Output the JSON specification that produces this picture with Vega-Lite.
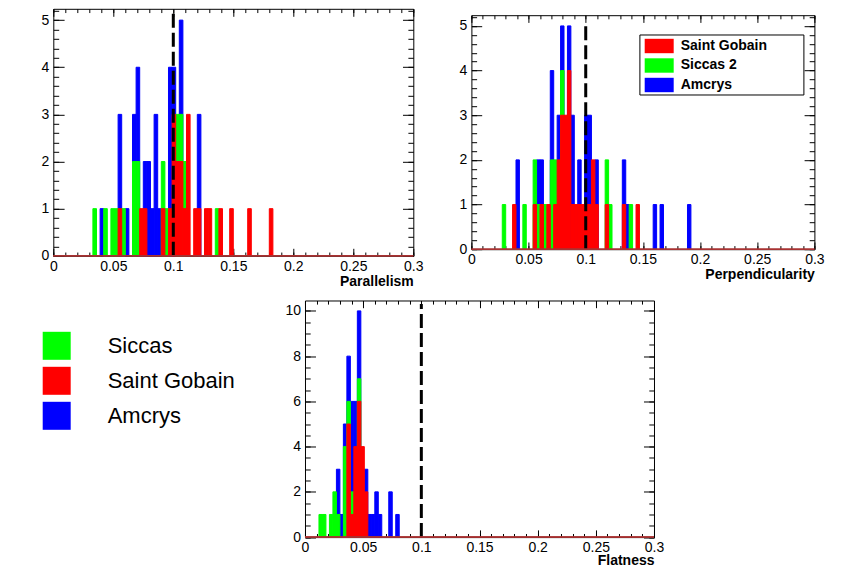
{
 "$schema": "https://vega.github.io/schema/vega-lite/v6.json",
 "background": "white",
 "padding": {"left": 40.3, "top": 7.8, "right": 10, "bottom": 2},
 "datasets": {
  "par": [
   {"x0":0.039,"x1":0.042,"series":"Amcrys","n":1},
   {"x0":0.054,"x1":0.057,"series":"Amcrys","n":3},
   {"x0":0.060,"x1":0.063,"series":"Amcrys","n":1},
   {"x0":0.066,"x1":0.069,"series":"Amcrys","n":3},
   {"x0":0.069,"x1":0.072,"series":"Amcrys","n":4},
   {"x0":0.075,"x1":0.078,"series":"Amcrys","n":2},
   {"x0":0.078,"x1":0.081,"series":"Amcrys","n":2},
   {"x0":0.081,"x1":0.084,"series":"Amcrys","n":1},
   {"x0":0.084,"x1":0.087,"series":"Amcrys","n":3},
   {"x0":0.087,"x1":0.090,"series":"Amcrys","n":1},
   {"x0":0.096,"x1":0.099,"series":"Amcrys","n":4},
   {"x0":0.099,"x1":0.102,"series":"Amcrys","n":4},
   {"x0":0.105,"x1":0.108,"series":"Amcrys","n":5},
   {"x0":0.120,"x1":0.123,"series":"Amcrys","n":3},
   {"x0":0.033,"x1":0.036,"series":"Siccas","n":1},
   {"x0":0.042,"x1":0.045,"series":"Siccas","n":1},
   {"x0":0.048,"x1":0.051,"series":"Siccas","n":1},
   {"x0":0.051,"x1":0.054,"series":"Siccas","n":1},
   {"x0":0.057,"x1":0.060,"series":"Siccas","n":1},
   {"x0":0.066,"x1":0.069,"series":"Siccas","n":2},
   {"x0":0.069,"x1":0.072,"series":"Siccas","n":2},
   {"x0":0.090,"x1":0.093,"series":"Siccas","n":2},
   {"x0":0.093,"x1":0.096,"series":"Siccas","n":1},
   {"x0":0.102,"x1":0.105,"series":"Siccas","n":3},
   {"x0":0.105,"x1":0.108,"series":"Siccas","n":3},
   {"x0":0.108,"x1":0.111,"series":"Siccas","n":2},
   {"x0":0.135,"x1":0.138,"series":"Siccas","n":1},
   {"x0":0.054,"x1":0.057,"series":"Saint Gobain","n":1},
   {"x0":0.072,"x1":0.075,"series":"Saint Gobain","n":1},
   {"x0":0.075,"x1":0.078,"series":"Saint Gobain","n":1},
   {"x0":0.090,"x1":0.093,"series":"Saint Gobain","n":1},
   {"x0":0.096,"x1":0.099,"series":"Saint Gobain","n":1},
   {"x0":0.099,"x1":0.102,"series":"Saint Gobain","n":3},
   {"x0":0.102,"x1":0.105,"series":"Saint Gobain","n":2},
   {"x0":0.105,"x1":0.108,"series":"Saint Gobain","n":2},
   {"x0":0.108,"x1":0.111,"series":"Saint Gobain","n":1},
   {"x0":0.111,"x1":0.114,"series":"Saint Gobain","n":3},
   {"x0":0.117,"x1":0.120,"series":"Saint Gobain","n":1},
   {"x0":0.120,"x1":0.123,"series":"Saint Gobain","n":1},
   {"x0":0.126,"x1":0.129,"series":"Saint Gobain","n":1},
   {"x0":0.129,"x1":0.132,"series":"Saint Gobain","n":1},
   {"x0":0.138,"x1":0.141,"series":"Saint Gobain","n":1},
   {"x0":0.147,"x1":0.150,"series":"Saint Gobain","n":1},
   {"x0":0.162,"x1":0.165,"series":"Saint Gobain","n":1},
   {"x0":0.180,"x1":0.183,"series":"Saint Gobain","n":1}
  ],
  "perp": [
   {"x0":0.039,"x1":0.042,"series":"Amcrys","n":2},
   {"x0":0.057,"x1":0.060,"series":"Amcrys","n":2},
   {"x0":0.060,"x1":0.063,"series":"Amcrys","n":2},
   {"x0":0.069,"x1":0.072,"series":"Amcrys","n":4},
   {"x0":0.075,"x1":0.078,"series":"Amcrys","n":3},
   {"x0":0.078,"x1":0.081,"series":"Amcrys","n":5},
   {"x0":0.084,"x1":0.087,"series":"Amcrys","n":5},
   {"x0":0.087,"x1":0.090,"series":"Amcrys","n":3},
   {"x0":0.093,"x1":0.096,"series":"Amcrys","n":2},
   {"x0":0.099,"x1":0.102,"series":"Amcrys","n":3},
   {"x0":0.102,"x1":0.105,"series":"Amcrys","n":3},
   {"x0":0.108,"x1":0.111,"series":"Amcrys","n":2},
   {"x0":0.132,"x1":0.135,"series":"Amcrys","n":2},
   {"x0":0.135,"x1":0.138,"series":"Amcrys","n":1},
   {"x0":0.159,"x1":0.162,"series":"Amcrys","n":1},
   {"x0":0.165,"x1":0.168,"series":"Amcrys","n":1},
   {"x0":0.189,"x1":0.192,"series":"Amcrys","n":1},
   {"x0":0.027,"x1":0.030,"series":"Siccas 2","n":1},
   {"x0":0.045,"x1":0.048,"series":"Siccas 2","n":1},
   {"x0":0.054,"x1":0.057,"series":"Siccas 2","n":2},
   {"x0":0.057,"x1":0.060,"series":"Siccas 2","n":1},
   {"x0":0.063,"x1":0.066,"series":"Siccas 2","n":1},
   {"x0":0.069,"x1":0.072,"series":"Siccas 2","n":2},
   {"x0":0.072,"x1":0.075,"series":"Siccas 2","n":2},
   {"x0":0.078,"x1":0.081,"series":"Siccas 2","n":4},
   {"x0":0.117,"x1":0.120,"series":"Siccas 2","n":2},
   {"x0":0.120,"x1":0.123,"series":"Siccas 2","n":1},
   {"x0":0.138,"x1":0.141,"series":"Siccas 2","n":1},
   {"x0":0.036,"x1":0.039,"series":"Saint Gobain","n":1},
   {"x0":0.054,"x1":0.057,"series":"Saint Gobain","n":1},
   {"x0":0.060,"x1":0.063,"series":"Saint Gobain","n":1},
   {"x0":0.066,"x1":0.069,"series":"Saint Gobain","n":1},
   {"x0":0.072,"x1":0.075,"series":"Saint Gobain","n":1},
   {"x0":0.075,"x1":0.078,"series":"Saint Gobain","n":2},
   {"x0":0.078,"x1":0.081,"series":"Saint Gobain","n":3},
   {"x0":0.081,"x1":0.084,"series":"Saint Gobain","n":3},
   {"x0":0.084,"x1":0.087,"series":"Saint Gobain","n":4},
   {"x0":0.087,"x1":0.090,"series":"Saint Gobain","n":1},
   {"x0":0.090,"x1":0.093,"series":"Saint Gobain","n":1},
   {"x0":0.093,"x1":0.096,"series":"Saint Gobain","n":1},
   {"x0":0.096,"x1":0.099,"series":"Saint Gobain","n":1},
   {"x0":0.099,"x1":0.102,"series":"Saint Gobain","n":1},
   {"x0":0.102,"x1":0.105,"series":"Saint Gobain","n":1},
   {"x0":0.105,"x1":0.108,"series":"Saint Gobain","n":2},
   {"x0":0.108,"x1":0.111,"series":"Saint Gobain","n":1},
   {"x0":0.117,"x1":0.120,"series":"Saint Gobain","n":1},
   {"x0":0.132,"x1":0.135,"series":"Saint Gobain","n":1},
   {"x0":0.144,"x1":0.147,"series":"Saint Gobain","n":1}
  ],
  "flat": [
   {"x0":0.027,"x1":0.030,"series":"Amcrys","n":3},
   {"x0":0.030,"x1":0.033,"series":"Amcrys","n":1},
   {"x0":0.033,"x1":0.036,"series":"Amcrys","n":5},
   {"x0":0.036,"x1":0.039,"series":"Amcrys","n":8},
   {"x0":0.039,"x1":0.042,"series":"Amcrys","n":6},
   {"x0":0.042,"x1":0.045,"series":"Amcrys","n":6},
   {"x0":0.045,"x1":0.048,"series":"Amcrys","n":10},
   {"x0":0.051,"x1":0.054,"series":"Amcrys","n":3},
   {"x0":0.054,"x1":0.057,"series":"Amcrys","n":1},
   {"x0":0.057,"x1":0.060,"series":"Amcrys","n":1},
   {"x0":0.060,"x1":0.063,"series":"Amcrys","n":2},
   {"x0":0.063,"x1":0.066,"series":"Amcrys","n":1},
   {"x0":0.072,"x1":0.075,"series":"Amcrys","n":2},
   {"x0":0.078,"x1":0.081,"series":"Amcrys","n":1},
   {"x0":0.012,"x1":0.015,"series":"Siccas","n":1},
   {"x0":0.015,"x1":0.018,"series":"Siccas","n":1},
   {"x0":0.021,"x1":0.024,"series":"Siccas","n":1},
   {"x0":0.024,"x1":0.027,"series":"Siccas","n":2},
   {"x0":0.027,"x1":0.030,"series":"Siccas","n":1},
   {"x0":0.033,"x1":0.036,"series":"Siccas","n":4},
   {"x0":0.036,"x1":0.039,"series":"Siccas","n":6},
   {"x0":0.039,"x1":0.042,"series":"Siccas","n":2},
   {"x0":0.045,"x1":0.048,"series":"Siccas","n":7},
   {"x0":0.036,"x1":0.039,"series":"Saint Gobain","n":5},
   {"x0":0.039,"x1":0.042,"series":"Saint Gobain","n":1},
   {"x0":0.042,"x1":0.045,"series":"Saint Gobain","n":4},
   {"x0":0.045,"x1":0.048,"series":"Saint Gobain","n":6},
   {"x0":0.048,"x1":0.051,"series":"Saint Gobain","n":4},
   {"x0":0.051,"x1":0.054,"series":"Saint Gobain","n":2}
  ]
 },
 "bounds": "full",
 "spacing": 9.7,
 "resolve": {"scale": {"color": "independent", "stroke": "independent"}, "legend": {"color": "independent", "stroke": "independent"}},
 "vconcat": [
  {
   "bounds": "flush",
   "spacing": 58.1,
   "resolve": {"scale": {"color": "independent", "stroke": "independent"}, "legend": {"color": "independent", "stroke": "independent"}},
   "hconcat": [
    {
     "width": 360, "height": 247,
     "resolve": {"axis": {"x": "independent", "y": "independent"}},
     "layer": [
      {
       "data": {"name": "par"},
       "mark": {"type": "bar", "strokeWidth": 1},
       "encoding": {
        "x": {"field": "x0", "type": "quantitative", "scale": {"domain": [0, 0.3], "nice": false, "zero": false},
              "axis": {"orient": "bottom", "values": [0,0.05,0.1,0.15,0.2,0.25,0.3], "tickSize": -7.5, "labelPadding": 11.5, "format": "~g", "labelFlush": false, "title": "Parallelism", "titleAnchor": "end", "titleFontWeight": "bold", "titleFontSize": 14, "titlePadding": 1}},
        "x2": {"field": "x1"},
        "y": {"field": "n", "type": "quantitative", "stack": null, "scale": {"domain": [0, 5.24], "nice": false},
              "axis": {"orient": "left", "values": [0,1,2,3,4,5], "tickSize": -10.8, "labelPadding": 15.3, "format": "d", "title": null}},
        "y2": {"datum": 0},
        "color": {"field": "series", "type": "nominal", "scale": {"domain": ["Amcrys", "Siccas", "Saint Gobain"], "range": ["#0000ff", "#00ff00", "#ff0000"]}, "legend": null},
        "stroke": {"field": "series", "type": "nominal", "scale": {"domain": ["Amcrys", "Siccas", "Saint Gobain"], "range": ["#0000ff", "#00ff00", "#ff0000"]}, "legend": null}
       }
      },
      {
       "data": {"values": [{"limit": 0.1}]},
       "mark": {"type": "rule", "color": "black", "strokeWidth": 3, "strokeDash": [14, 5]},
       "encoding": {
        "x": {"field": "limit", "type": "quantitative", "scale": {"domain": [0, 0.3], "nice": false, "zero": false},
              "axis": {"orient": "top", "values": [0,0.05,0.1,0.15,0.2,0.25,0.3], "tickSize": -7.5, "labels": false, "title": null}},
        "y": {"datum": 0, "type": "quantitative", "scale": {"domain": [0, 5.24], "nice": false},
              "axis": {"orient": "right", "values": [0,1,2,3,4,5], "tickSize": -10.8, "labels": false, "title": null}},
        "y2": {"datum": 5.17}
       }
      },
      {
       "data": {"values": [{"lo": 0, "hi": 0.3}]},
       "mark": {"type": "rule", "color": "#a83232", "strokeWidth": 1.5},
       "encoding": {
        "x": {"field": "lo", "type": "quantitative", "scale": {"domain": [0, 0.3], "nice": false, "zero": false},
              "axis": {"orient": "bottom", "values": [0,0.01,0.02,0.03,0.04,0.05,0.06,0.07,0.08,0.09,0.1,0.11,0.12,0.13,0.14,0.15,0.16,0.17,0.18,0.19,0.2,0.21,0.22,0.23,0.24,0.25,0.26,0.27,0.28,0.29,0.3], "tickSize": -3.75, "labels": false, "title": null}},
        "x2": {"field": "hi"},
        "y": {"datum": 0, "type": "quantitative", "scale": {"domain": [0, 5.24], "nice": false},
              "axis": {"orient": "left", "values": [0,0.2,0.4,0.6,0.8,1,1.2,1.4,1.6,1.8,2,2.2,2.4,2.6,2.8,3,3.2,3.4,3.6,3.8,4,4.2,4.4,4.6,4.8,5,5.2], "tickSize": -5.4, "labels": false, "title": null}}
       }
      },
      {
       "data": {"values": [{"lo": 0, "hi": 0.3}]},
       "mark": {"type": "rule", "color": "#a83232", "strokeWidth": 1.5},
       "encoding": {
        "x": {"field": "lo", "type": "quantitative", "scale": {"domain": [0, 0.3], "nice": false, "zero": false},
              "axis": {"orient": "top", "values": [0,0.01,0.02,0.03,0.04,0.05,0.06,0.07,0.08,0.09,0.1,0.11,0.12,0.13,0.14,0.15,0.16,0.17,0.18,0.19,0.2,0.21,0.22,0.23,0.24,0.25,0.26,0.27,0.28,0.29,0.3], "tickSize": -3.75, "labels": false, "title": null}},
        "x2": {"field": "hi"},
        "y": {"datum": 0, "type": "quantitative", "scale": {"domain": [0, 5.24], "nice": false},
              "axis": {"orient": "right", "values": [0,0.2,0.4,0.6,0.8,1,1.2,1.4,1.6,1.8,2,2.2,2.4,2.6,2.8,3,3.2,3.4,3.6,3.8,4,4.2,4.4,4.6,4.8,5,5.2], "tickSize": -5.4, "labels": false, "title": null}}
       }
      }
     ]
    },
    {
     "bounds": "flush",
     "spacing": 5.4,
     "resolve": {"scale": {"color": "independent", "stroke": "independent"}, "legend": {"color": "independent", "stroke": "independent"}},
     "vconcat": [
      {"data": {"values": []}, "mark": {"type": "point", "opacity": 0}, "encoding": {}, "width": 1, "height": 1, "view": {"stroke": null}},
      {
       "width": 343, "height": 234,
       "resolve": {"axis": {"x": "independent", "y": "independent"}},
       "layer": [
        {
         "data": {"name": "perp"},
         "mark": {"type": "bar", "strokeWidth": 1},
         "encoding": {
          "x": {"field": "x0", "type": "quantitative", "scale": {"domain": [0, 0.3], "nice": false, "zero": false},
                "axis": {"orient": "bottom", "values": [0,0.05,0.1,0.15,0.2,0.25,0.3], "tickSize": -7.2, "labelPadding": 10.5, "format": "~g", "labelFlush": false, "title": "Perpendicularity", "titleAnchor": "end", "titleFontWeight": "bold", "titleFontSize": 14, "titlePadding": 1}},
          "x2": {"field": "x1"},
          "y": {"field": "n", "type": "quantitative", "stack": null, "scale": {"domain": [0, 5.24], "nice": false},
                "axis": {"orient": "left", "values": [0,1,2,3,4,5], "tickSize": -10.3, "labelPadding": 14.8, "format": "d", "title": null}},
          "y2": {"datum": 0},
          "color": {"field": "series", "type": "nominal", "scale": {"domain": ["Saint Gobain", "Siccas 2", "Amcrys"], "range": ["#ff0000", "#00ff00", "#0000ff"]},
                    "legend": {"orient": "none", "legendX": 168, "legendY": 19.3, "title": "MM", "titleOrient": "right", "titleOpacity": 0, "titleFontSize": 14, "titlePadding": 10.7, "direction": "vertical", "fillColor": "white", "strokeColor": "black", "padding": 1.5, "symbolType": "M-1.45,-0.72H1.45V0.72H-1.45Z", "symbolSize": 400, "symbolStrokeWidth": 0, "symbolOffset": 8.3, "labelOffset": 11.5, "rowPadding": 1.5, "labelFont": "Liberation Sans", "labelFontSize": 14, "labelFontWeight": "bold", "labelColor": "black"}},
          "stroke": {"field": "series", "type": "nominal", "scale": {"domain": ["Saint Gobain", "Siccas 2", "Amcrys"], "range": ["#ff0000", "#00ff00", "#0000ff"]}, "legend": null}
         }
        },
        {
         "data": {"values": [{"limit": 0.1}]},
         "mark": {"type": "rule", "color": "black", "strokeWidth": 3, "strokeDash": [14, 5]},
         "encoding": {
          "x": {"field": "limit", "type": "quantitative", "scale": {"domain": [0, 0.3], "nice": false, "zero": false},
                "axis": {"orient": "top", "values": [0,0.05,0.1,0.15,0.2,0.25,0.3], "tickSize": -7.2, "labels": false, "title": null}},
          "y": {"datum": 0, "type": "quantitative", "scale": {"domain": [0, 5.24], "nice": false},
                "axis": {"orient": "right", "values": [0,1,2,3,4,5], "tickSize": -10.3, "labels": false, "title": null}},
          "y2": {"datum": 5.1}
         }
        },
        {
         "data": {"values": [{"lo": 0, "hi": 0.3}]},
         "mark": {"type": "rule", "color": "#a83232", "strokeWidth": 1.5},
         "encoding": {
          "x": {"field": "lo", "type": "quantitative", "scale": {"domain": [0, 0.3], "nice": false, "zero": false},
                "axis": {"orient": "bottom", "values": [0,0.01,0.02,0.03,0.04,0.05,0.06,0.07,0.08,0.09,0.1,0.11,0.12,0.13,0.14,0.15,0.16,0.17,0.18,0.19,0.2,0.21,0.22,0.23,0.24,0.25,0.26,0.27,0.28,0.29,0.3], "tickSize": -3.6, "labels": false, "title": null}},
          "x2": {"field": "hi"},
          "y": {"datum": 0, "type": "quantitative", "scale": {"domain": [0, 5.24], "nice": false},
                "axis": {"orient": "left", "values": [0,0.2,0.4,0.6,0.8,1,1.2,1.4,1.6,1.8,2,2.2,2.4,2.6,2.8,3,3.2,3.4,3.6,3.8,4,4.2,4.4,4.6,4.8,5,5.2], "tickSize": -5.2, "labels": false, "title": null}}
         }
        },
        {
         "data": {"values": [{"lo": 0, "hi": 0.3}]},
         "mark": {"type": "rule", "color": "#a83232", "strokeWidth": 1.5},
         "encoding": {
          "x": {"field": "lo", "type": "quantitative", "scale": {"domain": [0, 0.3], "nice": false, "zero": false},
                "axis": {"orient": "top", "values": [0,0.01,0.02,0.03,0.04,0.05,0.06,0.07,0.08,0.09,0.1,0.11,0.12,0.13,0.14,0.15,0.16,0.17,0.18,0.19,0.2,0.21,0.22,0.23,0.24,0.25,0.26,0.27,0.28,0.29,0.3], "tickSize": -3.6, "labels": false, "title": null}},
          "x2": {"field": "hi"},
          "y": {"datum": 0, "type": "quantitative", "scale": {"domain": [0, 5.24], "nice": false},
                "axis": {"orient": "right", "values": [0,0.2,0.4,0.6,0.8,1,1.2,1.4,1.6,1.8,2,2.2,2.4,2.6,2.8,3,3.2,3.4,3.6,3.8,4,4.2,4.4,4.6,4.8,5,5.2], "tickSize": -5.2, "labels": false, "title": null}}
         }
        }
       ]
      }
     ]
    }
   ]
  },
  {
   "bounds": "flush",
   "spacing": 250.7,
   "resolve": {"scale": {"color": "independent", "stroke": "independent"}, "legend": {"color": "independent", "stroke": "independent"}},
   "hconcat": [
    {"data": {"values": []}, "mark": {"type": "point", "opacity": 0}, "encoding": {}, "width": 1, "height": 1, "view": {"stroke": null}},
    {
     "width": 349, "height": 236.6,
     "resolve": {"axis": {"x": "independent", "y": "independent"}},
     "layer": [
      {
       "data": {"name": "flat"},
       "mark": {"type": "bar", "strokeWidth": 1},
       "encoding": {
        "x": {"field": "x0", "type": "quantitative", "scale": {"domain": [0, 0.3], "nice": false, "zero": false},
              "axis": {"orient": "bottom", "values": [0,0.05,0.1,0.15,0.2,0.25,0.3], "tickSize": -7.2, "labelPadding": 10.5, "format": "~g", "labelFlush": false, "title": "Flatness", "titleAnchor": "end", "titleFontWeight": "bold", "titleFontSize": 14, "titlePadding": -1}},
        "x2": {"field": "x1"},
        "y": {"field": "n", "type": "quantitative", "stack": null, "scale": {"domain": [0, 10.46], "nice": false},
              "axis": {"orient": "left", "values": [0,2,4,6,8,10], "tickSize": -10.5, "labelPadding": 15, "format": "d", "title": null}},
        "y2": {"datum": 0},
        "color": {"field": "series", "type": "nominal", "scale": {"domain": ["Siccas", "Saint Gobain", "Amcrys"], "range": ["#00ff00", "#ff0000", "#0000ff"]},
                  "legend": {"orient": "none", "legendX": -262.3, "legendY": 31.3, "title": null, "direction": "vertical", "padding": 0, "symbolType": "square", "symbolSize": 784, "symbolStrokeWidth": 0, "labelOffset": 37, "rowPadding": 7, "labelFont": "Liberation Sans", "labelFontSize": 22, "labelColor": "black"}},
        "stroke": {"field": "series", "type": "nominal", "scale": {"domain": ["Siccas", "Saint Gobain", "Amcrys"], "range": ["#00ff00", "#ff0000", "#0000ff"]}, "legend": null}
       }
      },
      {
       "data": {"values": [{"limit": 0.1}]},
       "mark": {"type": "rule", "color": "black", "strokeWidth": 3, "strokeDash": [14, 5]},
       "encoding": {
        "x": {"field": "limit", "type": "quantitative", "scale": {"domain": [0, 0.3], "nice": false, "zero": false},
              "axis": {"orient": "top", "values": [0,0.05,0.1,0.15,0.2,0.25,0.3], "tickSize": -7.2, "labels": false, "title": null}},
        "y": {"datum": 0, "type": "quantitative", "scale": {"domain": [0, 10.46], "nice": false},
              "axis": {"orient": "right", "values": [0,2,4,6,8,10], "tickSize": -10.5, "labels": false, "title": null}},
        "y2": {"datum": 10.3}
       }
      },
      {
       "data": {"values": [{"lo": 0, "hi": 0.3}]},
       "mark": {"type": "rule", "color": "#a83232", "strokeWidth": 1.5},
       "encoding": {
        "x": {"field": "lo", "type": "quantitative", "scale": {"domain": [0, 0.3], "nice": false, "zero": false},
              "axis": {"orient": "bottom", "values": [0,0.01,0.02,0.03,0.04,0.05,0.06,0.07,0.08,0.09,0.1,0.11,0.12,0.13,0.14,0.15,0.16,0.17,0.18,0.19,0.2,0.21,0.22,0.23,0.24,0.25,0.26,0.27,0.28,0.29,0.3], "tickSize": -3.6, "labels": false, "title": null}},
        "x2": {"field": "hi"},
        "y": {"datum": 0, "type": "quantitative", "scale": {"domain": [0, 10.46], "nice": false},
              "axis": {"orient": "left", "values": [0,0.5,1,1.5,2,2.5,3,3.5,4,4.5,5,5.5,6,6.5,7,7.5,8,8.5,9,9.5,10], "tickSize": -5.2, "labels": false, "title": null}}
       }
      },
      {
       "data": {"values": [{"lo": 0, "hi": 0.3}]},
       "mark": {"type": "rule", "color": "#a83232", "strokeWidth": 1.5},
       "encoding": {
        "x": {"field": "lo", "type": "quantitative", "scale": {"domain": [0, 0.3], "nice": false, "zero": false},
              "axis": {"orient": "top", "values": [0,0.01,0.02,0.03,0.04,0.05,0.06,0.07,0.08,0.09,0.1,0.11,0.12,0.13,0.14,0.15,0.16,0.17,0.18,0.19,0.2,0.21,0.22,0.23,0.24,0.25,0.26,0.27,0.28,0.29,0.3], "tickSize": -3.6, "labels": false, "title": null}},
        "x2": {"field": "hi"},
        "y": {"datum": 0, "type": "quantitative", "scale": {"domain": [0, 10.46], "nice": false},
              "axis": {"orient": "right", "values": [0,0.5,1,1.5,2,2.5,3,3.5,4,4.5,5,5.5,6,6.5,7,7.5,8,8.5,9,9.5,10], "tickSize": -5.2, "labels": false, "title": null}}
       }
      }
     ]
    }
   ]
  }
 ],
 "config": {
  "font": "Liberation Sans",
  "view": {"stroke": "black", "strokeWidth": 1},
  "axis": {"grid": false, "domain": false, "labelColor": "black", "tickColor": "black", "titleColor": "black", "labelFont": "Liberation Sans", "titleFont": "Liberation Sans", "labelFontSize": 14, "tickWidth": 1, "zindex": 1}
 }
}
